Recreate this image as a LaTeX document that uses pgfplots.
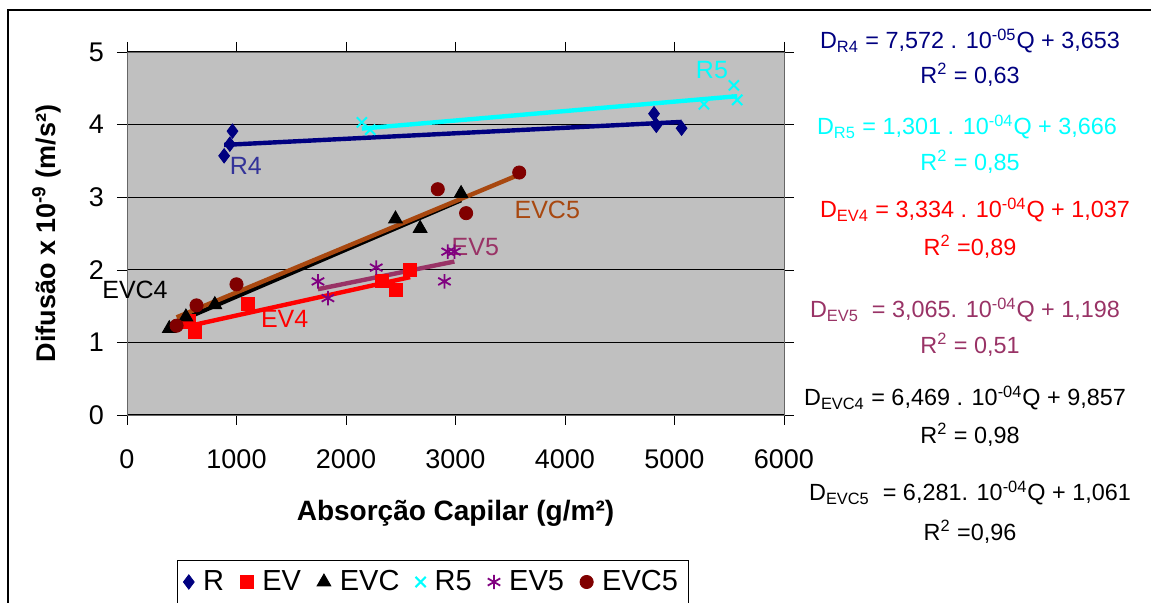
\documentclass[border=0pt]{standalone}
\usepackage{pgfplots}
\pgfplotsset{compat=1.18}
\usepackage{fontspec}
\setmainfont{Liberation Sans}
\definecolor{navyc}{HTML}{000080}
\definecolor{labnavy}{HTML}{333399}
\definecolor{cyanc}{HTML}{00FFFF}
\definecolor{purplec}{HTML}{800080}
\definecolor{darkredc}{HTML}{800000}
\definecolor{mauve}{HTML}{993366}
\definecolor{brownc}{HTML}{A84810}
\definecolor{plotbg}{HTML}{C0C0C0}
\newcommand{\fs}[1]{\fontsize{#1}{#1}\selectfont}
\begin{document}
\begin{tikzpicture}
\path[use as bounding box] (0,0) rectangle (575.5pt,301.5pt);
\draw[black, line width=0.6pt] (4pt,-2pt) -- (4pt,296.5pt) -- (580pt,296.5pt);
\begin{axis}[
  at={(63.5pt,94pt)}, anchor=south west,
  scale only axis, width=328.5pt, height=181.5pt,
  xmin=0, xmax=6000, ymin=0, ymax=5,
  xtick={0,1000,...,6000}, ytick={0,1,2,3,4,5},
  scaled ticks=false,
  /pgf/number format/assume math mode=true,
  /pgf/number format/set thousands separator={},
  tick label style={font=\fs{13.5}},
  xticklabel style={yshift=-9pt},
  yticklabel style={xshift=-3pt},
  tick align=outside, major tick length=5pt,
  xtick style={black}, ytick style={black},
  axis background/.style={fill=plotbg},
  axis line style={draw=gray!80!black},
  ymajorgrids, grid style={black, line width=0.5pt},
  clip=false,
  xlabel={\textbf{Absorção Capilar (g/m²)}},
  xlabel style={font=\fs{14}, at={(axis description cs:0.5,-0.27)}, anchor=center},
  ylabel={\textbf{Difusão x 10\textsuperscript{-9} (m/s²)}},
  ylabel style={font=\fs{13.5}, at={(axis description cs:-0.122,0.5)}, anchor=center, rotate=0},
  legend style={at={(0.0761,-0.3994)}, anchor=north west, legend columns=-1,
    draw=black, fill=white, font=\fs{14.5}, inner sep=3pt,
    /tikz/every even column/.append style={column sep=6pt},
    /tikz/every odd column/.append style={column sep=2.5pt}},
]
% data series
\addplot[only marks, mark=diamond*, mark size=3.6pt, color=navyc] coordinates {
  (963,3.91) (939,3.73) (887,3.57) (4813,4.15) (4834,3.99) (5065,3.95)};
\addlegendentry{R}
\addplot[only marks, mark=square*, mark size=3.3pt, color=red] coordinates {
  (565,1.29) (620,1.15) (1106,1.53) (2331,1.85) (2458,1.72) (2586,2.00)};
\addlegendentry{EV}
\addplot[only marks, mark=triangle*, mark size=4pt, color=black] coordinates {
  (386,1.19) (538,1.35) (802,1.52) (2452,2.70) (2677,2.57) (3051,3.05)};
\addlegendentry{EVC}
\addplot[only marks, mark=x, mark size=3.6pt, line width=1pt, color=cyanc] coordinates {
  (2145,4.03) (2221,3.93) (5542,4.54) (5269,4.28) (5573,4.34)};
\addlegendentry{R5}
\addplot[only marks, mark=asterisk, mark size=3.6pt, line width=0.9pt, color=purplec] coordinates {
  (1744,1.84) (1835,1.61) (2276,2.03) (2929,2.25) (2899,1.84) (2990,2.25)};
\addlegendentry{EV5}
\addplot[only marks, mark=*, mark size=3.3pt, color=darkredc] coordinates {
  (453,1.23) (635,1.51) (1000,1.80) (2838,3.11) (3097,2.78) (3582,3.34)};
\addlegendentry{EVC5}
% trend lines
\addplot[forget plot, navyc, line width=2.2pt] coordinates {(887,3.720) (5065,4.037)};
\addplot[forget plot, cyanc, line width=2.2pt] coordinates {(2145,3.945) (5573,4.391)};
\addplot[forget plot, red, line width=2.2pt] coordinates {(560,1.224) (2586,1.899)};
\addplot[forget plot, mauve, line width=2.2pt] coordinates {(1744,1.733) (2990,2.114)};
\addplot[forget plot, black, line width=2.2pt] coordinates {(386,1.235) (3051,2.959)};
\addplot[forget plot, brownc, line width=2.2pt] coordinates {(453,1.345) (3582,3.311)};
% series labels
\node[font=\fs{12.5}, text=labnavy] at (axis cs:1085,3.43) {R4};
\node[font=\fs{12.5}, text=cyanc] at (axis cs:5342,4.75) {R5};
\node[font=\fs{12.5}, text=brownc] at (axis cs:3838,2.82) {EVC5};
\node[font=\fs{12.5}, text=mauve] at (axis cs:3181,2.31) {EV5};
\node[font=\fs{12.5}, text=red] at (axis cs:1440,1.32) {EV4};
\node[font=\fs{12.5}, text=black] at (axis cs:73,1.72) {EVC4};
\end{axis}
% equations
\begin{scope}[every node/.style={font=\fs{11.7}, anchor=center, inner sep=0pt}]
\node[text=navyc] at (485pt,281pt) {D\textsubscript{R4} = 7,572 . 10\textsuperscript{-05}Q + 3,653};
\node[text=navyc] at (485pt,264pt) {R\textsuperscript{2} = 0,63};
\node[text=cyanc] at (483.5pt,238pt) {D\textsubscript{R5} = 1,301 . 10\textsuperscript{-04}Q + 3,666};
\node[text=cyanc] at (485pt,220.5pt) {R\textsuperscript{2} = 0,85};
\node[text=red] at (487.5pt,196.5pt) {D\textsubscript{EV4} = 3,334 . 10\textsuperscript{-04}Q + 1,037};
\node[text=red] at (485pt,178pt) {R\textsuperscript{2} =0,89};
\node[text=mauve] at (482.5pt,146.5pt) {D\textsubscript{EV5}\ \ = 3,065. 10\textsuperscript{-04}Q + 1,198};
\node[text=mauve] at (485pt,129pt) {R\textsuperscript{2} = 0,51};
\node[text=black] at (482.5pt,102.5pt) {D\textsubscript{EVC4} = 6,469 . 10\textsuperscript{-04}Q + 9,857};
\node[text=black] at (485pt,84pt) {R\textsuperscript{2} = 0,98};
\node[text=black] at (485pt,55pt) {D\textsubscript{EVC5}\ \ = 6,281. 10\textsuperscript{-04}Q + 1,061};
\node[text=black] at (485pt,35.5pt) {R\textsuperscript{2} =0,96};
\end{scope}
\end{tikzpicture}
\end{document}
